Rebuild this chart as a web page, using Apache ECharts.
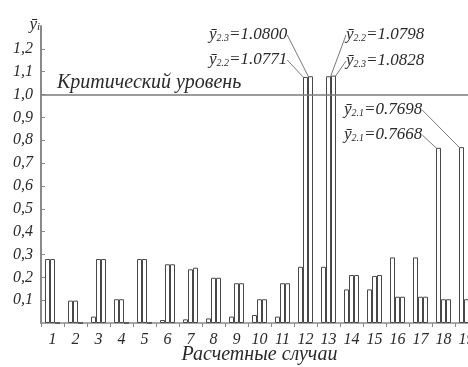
<!DOCTYPE html>
<html>
<head>
<meta charset="utf-8">
<script src="https://cdn.jsdelivr.net/npm/echarts@6/dist/echarts.min.js"></script>
<style>
  html, body { margin: 0; padding: 0; background: #fff; }
  #chart { width: 468px; height: 367px; }
</style>
</head>
<body>
<div id="chart"></div>
<script>
// Calculation cases along the x axis
const categories = ['1','2','3','4','5','6','7','8','9','10','11','12','13','14','15','16','17','18','19'];

// Mean responses ȳ2.1, ȳ2.2, ȳ2.3 for each case
const y21 = [0.280, 0.098, 0.028, 0.104, 0.280, 0.013, 0.016, 0.020, 0.028, 0.035, 0.028, 0.246, 0.246, 0.147, 0.147, 0.287, 0.287, 0.7668, 0.7698];
const y22 = [0.280, 0.098, 0.280, 0.104, 0.280, 0.257, 0.235, 0.198, 0.174, 0.104, 0.174, 1.0771, 1.0798, 0.210, 0.206, 0.115, 0.115, 0.104, 0.104];
const y23 = [0, 0, 0.280, 0, 0, 0.257, 0.242, 0.198, 0.174, 0.104, 0.174, 1.0800, 1.0828, 0.210, 0.210, 0.115, 0.115, 0.104, 0.104];

// Y axis tick values and the critical level
const yTicks = [0.1, 0.2, 0.3, 0.4, 0.5, 0.6, 0.7, 0.8, 0.9, 1.0, 1.1, 1.2];
const criticalLevel = 1.0;

// Annotated bars: series key -> case index -> [label x, label y]
const notePlaces = {
  '2.1': { 17: [344, 135], 18: [344, 110] },
  '2.2': { 11: [209, 60], 12: [346, 35] },
  '2.3': { 11: [209, 35], 12: [346, 61] }
};

const FONT = 'Liberation Serif';
const TEXT = '#2a2a2a';
const AXIS = '#8a8a8a';

const noteRich = {
  y: { fontFamily: FONT, fontStyle: 'italic', fontSize: 17, color: TEXT },
  s: { fontFamily: FONT, fontStyle: 'italic', fontSize: 10, color: TEXT, padding: [6, 0, 0, 0] },
  v: { fontFamily: FONT, fontStyle: 'italic', fontSize: 17, color: TEXT }
};

function barSeries(key, values, extra) {
  const places = notePlaces[key];
  return Object.assign({
    type: 'bar',
    name: key,
    barWidth: 5,
    barGap: '0%',
    itemStyle: { color: '#ffffff', borderColor: '#484848', borderWidth: 1 },
    data: values.map((v, i) => places[i] ? { value: v, label: { show: true } } : v),
    label: {
      show: false,
      formatter: p => '{y|ȳ}{s|' + key + '}{v|=' + p.value.toFixed(4) + '}',
      rich: noteRich
    },
    labelLine: { show: true, lineStyle: { color: '#7a7a7a', width: 1 } },
    labelLayout: p => {
      const at = places[p.dataIndex];
      return at ? { x: at[0], y: at[1], align: 'left', verticalAlign: 'middle' } : {};
    }
  }, extra || {});
}

const chart = echarts.init(document.getElementById('chart'), null, { renderer: 'canvas' });

chart.setOption({
  animation: false,
  backgroundColor: '#ffffff',
  // the plot runs past the right edge, so the last case is cut off
  grid: { left: 41, width: 437, top: 26, bottom: 44, outerBoundsMode: 'none', containLabel: false },
  xAxis: {
    type: 'category',
    data: categories,
    axisLine: { lineStyle: { color: AXIS, width: 1.5 } },
    axisTick: { show: true, length: 4, lineStyle: { color: AXIS } },
    axisLabel: { fontFamily: FONT, fontStyle: 'italic', fontSize: 16, color: TEXT, margin: 9 },
    name: 'Расчетные случаи',
    nameLocation: 'middle',
    nameGap: 22,
    nameMoveOverlap: false,
    nameTextStyle: { fontFamily: FONT, fontStyle: 'italic', fontSize: 20, color: TEXT }
  },
  yAxis: {
    type: 'value',
    min: 0,
    max: 1.3,
    interval: 0.1,
    splitLine: { show: false },
    axisLine: { show: true, lineStyle: { color: AXIS, width: 2 } },
    axisTick: { show: true, inside: true, length: 4, customValues: yTicks, lineStyle: { color: AXIS } },
    axisLabel: {
      customValues: yTicks,
      formatter: v => v.toFixed(1).replace('.', ','),
      fontFamily: FONT, fontStyle: 'italic', fontSize: 16, color: TEXT, margin: 8
    },
    name: '{y|ȳ}{s|i}',
    nameLocation: 'end',
    nameGap: -7,
    nameTextStyle: {
      align: 'right',
      padding: [0, 1, 0, 0],
      rich: {
        y: { fontFamily: FONT, fontStyle: 'italic', fontSize: 17, color: TEXT },
        s: { fontFamily: FONT, fontStyle: 'italic', fontSize: 11, color: TEXT, padding: [6, 0, 0, 0] }
      }
    }
  },
  series: [
    barSeries('2.1', y21),
    barSeries('2.2', y22),
    barSeries('2.3', y23, {
      markLine: {
        silent: true,
        symbol: 'none',
        lineStyle: { color: '#7a7a7a', width: 1.5, type: 'solid' },
        label: {
          show: true,
          position: 'insideStartTop',
          distance: [16, 2],
          formatter: 'Критический уровень',
          fontFamily: FONT, fontStyle: 'italic', fontSize: 20, color: TEXT
        },
        data: [{ yAxis: criticalLevel }]
      }
    })
  ]
});
</script>
</body>
</html>
